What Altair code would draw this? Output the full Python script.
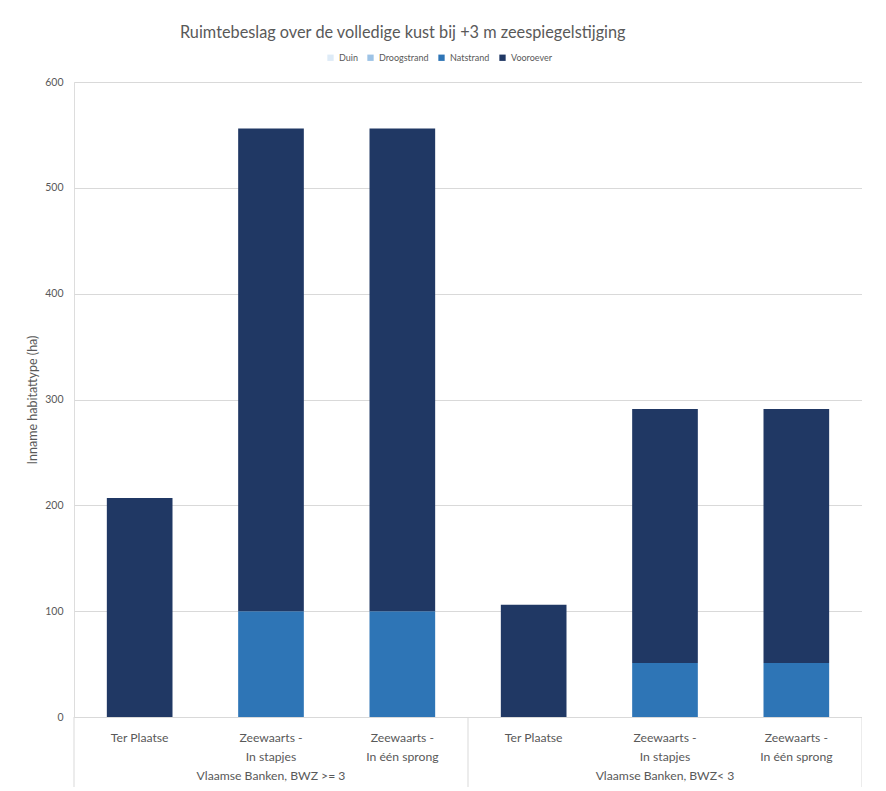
import altair as alt
import pandas as pd

groups = ["Vlaamse Banken, BWZ >= 3", "Vlaamse Banken, BWZ< 3"]
categories = ["Ter Plaatse", "Zeewaarts -|In stapjes", "Zeewaarts -|In één sprong"]
series = ["Duin", "Droogstrand", "Natstrand", "Vooroever"]
colors = ["#deebf7", "#9dc3e6", "#2e75b6", "#203864"]

# values per bar (group 1 cats, then group 2 cats)
natstrand = [0, 100, 100, 0, 51, 51]
vooroever = [207, 456, 456, 106, 240, 240]

keys = []
for gi, g in enumerate(groups):
    for ci, c in enumerate(categories):
        keys.append(f"{gi}|{c}")
rows = []
for i, k in enumerate(keys):
    if natstrand[i] > 0:
        rows.append({"key": k, "serie": "Natstrand", "value": natstrand[i], "o": 2})
    if vooroever[i] > 0:
        rows.append({"key": k, "serie": "Vooroever", "value": vooroever[i], "o": 3})
df = pd.DataFrame(rows)

W, H = 788, 635
FONT = "Lato"
GRAY = "#595959"
LINE = "#d9d9d9"

xscale = alt.Scale(paddingInner=0, paddingOuter=0)
xenc = alt.X("key:N", sort=keys, scale=xscale,
             axis=alt.Axis(title=None, labelAngle=0, labelExpr="slice(split(datum.value, '|'), 1)",
                           labelFontSize=12.2, labelColor=GRAY, labelFont=FONT, labelLineHeight=19,
                           labelPadding=14, ticks=False, domainColor=LINE, labelBaseline="top"))

bars = alt.Chart(df).mark_bar(width=alt.RelativeBandSize(0.5)).encode(
    x=xenc,
    y=alt.Y("value:Q", stack="zero", scale=alt.Scale(domain=[0, 600]),
            axis=alt.Axis(title="Inname habitattype (ha)", values=[0, 100, 200, 300, 400, 500, 600],
                          domain=False, ticks=False, gridColor=LINE, labelColor=GRAY,
                          labelFontSize=10.5, labelFont=FONT, labelPadding=11, titleColor=GRAY,
                          titleFont=FONT, titleFontSize=12.5, titleFontWeight="normal", titlePadding=5)),
    color=alt.Color("serie:N", scale=alt.Scale(domain=series, range=colors),
                    legend=alt.Legend(title=None, orient="none", direction="horizontal",
                                      legendX=252, legendY=-29, symbolType="square", symbolSize=40,
                                      labelFontSize=9, labelColor=GRAY, labelFont=FONT,
                                      columnPadding=8, labelOffset=4, symbolStrokeWidth=0)),
    order=alt.Order("o:Q"),
)

glab = pd.DataFrame({"key": [keys[1], keys[4]], "g": groups})
group_text = alt.Chart(glab).mark_text(fontSize=12.2, color=GRAY, font=FONT, baseline="middle").encode(
    x=alt.X("key:N", sort=keys, scale=xscale), y=alt.value(H + 59), text="g:N")

sep_start = pd.DataFrame({"key": [keys[0], keys[3]]})
sep_end = pd.DataFrame({"key": [keys[-1]]})
sep1 = alt.Chart(sep_start).mark_rule(color=LINE).encode(
    x=alt.X("key:N", sort=keys, scale=xscale, bandPosition=0), y=alt.value(H), y2=alt.value(H + 70))
sep2 = alt.Chart(sep_end).mark_rule(color=LINE).encode(
    x=alt.X("key:N", sort=keys, scale=xscale, bandPosition=1), y=alt.value(H), y2=alt.value(H + 70))

chart = alt.layer(bars, sep1, sep2, group_text).properties(
    width=W, height=H,
    title=alt.Title("Ruimtebeslag over de volledige kust bij +3 m zeespiegelstijging",
                    anchor="start", frame="group", dx=106, fontSize=16.3, font=FONT, color=GRAY,
                    fontWeight="normal", offset=12),
    autosize=alt.AutoSizeParams(type="none"),
    padding={"left": 66, "top": 74, "right": 0, "bottom": 74},
).configure_view(stroke=None).configure(background="white")

chart.save("out.html", embed_options={"renderer": "svg", "actions": False})
